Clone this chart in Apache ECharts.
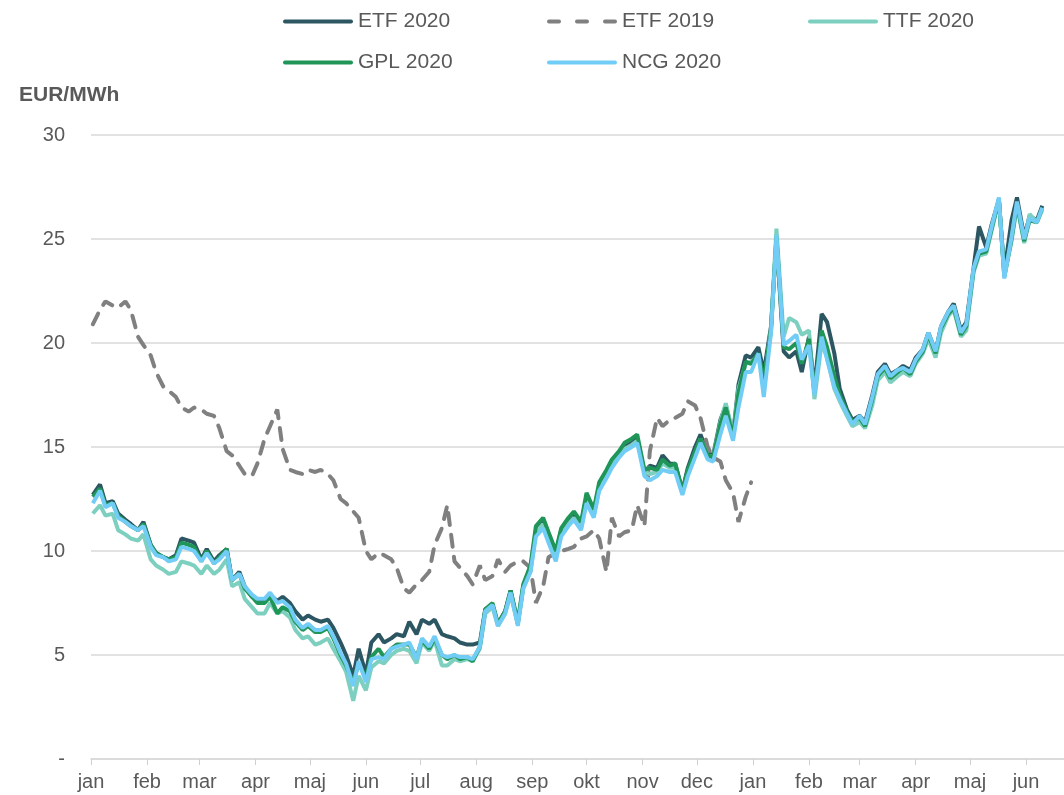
<!DOCTYPE html>
<html>
<head>
<meta charset="utf-8">
<script src="https://cdn.jsdelivr.net/npm/echarts@6/dist/echarts.min.js"></script>
<style>
  html, body { margin: 0; padding: 0; background: #fff; }
  #chart { width: 1064px; height: 795px; }
</style>
</head>
<body>
<div id="chart"></div>
<script>
// måneder på x-aksen
var months = ['jan', 'feb', 'mar', 'apr', 'maj', 'jun', 'jul', 'aug', 'sep', 'okt', 'nov', 'dec'];

// noteringsdatoer (man/tor), jan 2020 - jun 2021
var dates = [
  '2020-01-02','2020-01-06','2020-01-09','2020-01-13','2020-01-16','2020-01-20','2020-01-23','2020-01-27','2020-01-30',
  '2020-02-03','2020-02-06','2020-02-10','2020-02-13','2020-02-17','2020-02-20','2020-02-24','2020-02-27',
  '2020-03-02','2020-03-05','2020-03-09','2020-03-12','2020-03-16','2020-03-19','2020-03-23','2020-03-26','2020-03-30',
  '2020-04-02','2020-04-06','2020-04-09','2020-04-13','2020-04-16','2020-04-20','2020-04-23','2020-04-27','2020-04-30',
  '2020-05-04','2020-05-07','2020-05-11','2020-05-14','2020-05-18','2020-05-21','2020-05-25','2020-05-28',
  '2020-06-01','2020-06-04','2020-06-08','2020-06-11','2020-06-15','2020-06-18','2020-06-22','2020-06-25','2020-06-29',
  '2020-07-02','2020-07-06','2020-07-09','2020-07-13','2020-07-16','2020-07-20','2020-07-23','2020-07-27','2020-07-30',
  '2020-08-03','2020-08-06','2020-08-10','2020-08-13','2020-08-17','2020-08-20','2020-08-24','2020-08-27','2020-08-31',
  '2020-09-03','2020-09-07','2020-09-10','2020-09-14','2020-09-17','2020-09-21','2020-09-24','2020-09-28',
  '2020-10-01','2020-10-05','2020-10-08','2020-10-12','2020-10-15','2020-10-19','2020-10-22','2020-10-26','2020-10-29',
  '2020-11-02','2020-11-05','2020-11-09','2020-11-12','2020-11-16','2020-11-19','2020-11-23','2020-11-26','2020-11-30',
  '2020-12-03','2020-12-07','2020-12-10','2020-12-14','2020-12-17','2020-12-21','2020-12-24','2020-12-28','2020-12-31',
  '2021-01-04','2021-01-07','2021-01-11','2021-01-14','2021-01-18','2021-01-21','2021-01-25','2021-01-28',
  '2021-02-01','2021-02-04','2021-02-08','2021-02-11','2021-02-15','2021-02-18','2021-02-22','2021-02-25',
  '2021-03-01','2021-03-04','2021-03-08','2021-03-11','2021-03-15','2021-03-18','2021-03-22','2021-03-25','2021-03-29',
  '2021-04-01','2021-04-05','2021-04-08','2021-04-12','2021-04-15','2021-04-19','2021-04-22','2021-04-26','2021-04-29',
  '2021-05-03','2021-05-06','2021-05-10','2021-05-13','2021-05-17','2021-05-20','2021-05-24','2021-05-27','2021-05-31',
  '2021-06-03','2021-06-07','2021-06-10'
];

var etf2020 = [
  12.7, 13.2, 12.3, 12.4, 11.8, 11.5, 11.3, 11.0, 11.4,
  10.3, 9.9, 9.7, 9.6, 9.8, 10.6, 10.5, 10.4,
  9.6, 10.1, 9.5, 9.8, 10.1, 8.6, 9.0, 8.3, 7.8,
  7.6, 7.6, 7.9, 7.6, 7.8, 7.5, 7.1, 6.7, 6.9,
  6.7, 6.6, 6.7, 6.3, 5.6, 5.0, 4.0, 5.3,
  4.1, 5.6, 6.0, 5.6, 5.8, 6.0, 5.9, 6.6, 6.0,
  6.7, 6.5, 6.7, 6.0, 5.9, 5.8, 5.6, 5.5, 5.5,
  5.6, 7.2, 7.4, 6.5, 7.1, 8.1, 6.5, 8.3, 9.1,
  11.0, 11.4, 10.8, 9.9, 11.0, 11.5, 11.8, 11.3,
  12.6, 11.9, 13.1, 13.7, 14.3, 14.6, 15.0, 15.2, 15.4,
  13.8, 14.1, 14.0, 14.6, 14.2, 14.2, 12.9, 14.0, 15.0,
  15.6, 14.7, 14.6, 16.3, 17.0, 15.6, 18.0, 19.4, 19.3,
  19.8, 18.6, 20.8, 25.0, 19.6, 19.3, 19.6, 18.6,
  20.3, 17.8, 21.4, 21.0, 19.5, 17.8, 16.8, 16.3,
  16.5, 16.2, 17.5, 18.6, 19.0, 18.5, 18.7, 18.9, 18.7,
  19.3, 19.7, 20.5, 19.6, 20.8, 21.5, 21.9, 20.6, 21.0,
  23.6, 25.6, 24.6, 25.7, 26.9, 23.4, 25.9, 27.0, 25.1,
  26.1, 25.9, 26.6
];

// ETF 2019 vist på samme kalenderdage (jan-dec)
var etf2019 = [
  20.9, 21.6, 22.0, 21.8, 21.7, 22.0, 21.6, 20.3, 19.9,
  19.4, 18.6, 17.9, 17.7, 17.4, 16.9, 16.7, 16.9,
  16.8, 16.6, 16.5, 15.9, 14.8, 14.6, 14.1, 13.7, 13.6,
  14.2, 15.4, 16.0, 16.8, 14.9, 13.9, 13.8, 13.7, 13.9,
  13.8, 13.9, 13.7, 13.4, 12.5, 12.3, 11.9, 11.6,
  10.0, 9.6, 9.9, 9.8, 9.6, 9.2, 8.2, 8.0, 8.4,
  8.6, 9.0, 10.3, 11.1, 12.2, 9.5, 9.2, 8.8, 8.4,
  9.3, 8.6, 8.8, 9.6, 9.0, 9.3, 9.5, 9.5, 9.2,
  7.5, 8.3, 9.7, 9.9, 10.0, 10.1, 10.2, 10.6,
  10.7, 11.0, 10.6, 9.0, 11.6, 10.7, 10.9, 11.0, 12.2,
  11.2, 14.8, 16.4, 16.0, 16.3, 16.4, 16.6, 17.2, 17.0,
  16.4, 15.0, 14.5, 14.3, 13.4, 12.8, 11.4, 12.6, 13.3
];

var ttf2020 = [
  11.8, 12.2, 11.7, 11.8, 11.0, 10.8, 10.6, 10.5, 10.8,
  9.6, 9.3, 9.1, 8.9, 9.0, 9.5, 9.4, 9.3,
  8.9, 9.3, 8.9, 9.1, 9.6, 8.3, 8.5, 7.7, 7.3,
  7.0, 7.0, 7.5, 7.0, 7.1, 6.8, 6.2, 5.8, 5.9,
  5.5, 5.6, 5.8, 5.3, 4.7, 4.2, 2.8, 4.0,
  3.3, 4.4, 4.7, 4.6, 5.0, 5.2, 5.3, 5.2, 4.6,
  5.6, 5.2, 5.7, 4.5, 4.5, 4.8, 4.7, 4.8, 4.7,
  5.3, 7.0, 7.3, 6.4, 7.0, 7.9, 6.5, 8.2, 9.0,
  10.9, 11.3, 10.6, 9.7, 10.8, 11.3, 11.6, 11.1,
  12.4, 11.7, 13.0, 13.6, 14.2, 14.6, 14.9, 15.1, 15.3,
  13.8, 13.7, 13.8, 14.2, 14.0, 14.0, 12.8, 13.8, 14.7,
  15.4, 14.6, 14.5, 16.2, 17.1, 15.6, 17.8, 19.0, 19.1,
  19.4, 18.0, 20.7, 25.5, 20.3, 21.2, 21.0, 20.4,
  20.6, 17.3, 20.0, 19.3, 17.8, 17.2, 16.5, 16.0,
  16.2, 15.9, 17.0, 18.2, 18.6, 18.1, 18.4, 18.6, 18.4,
  19.0, 19.5, 20.2, 19.3, 20.5, 21.3, 21.6, 20.3, 20.6,
  23.4, 24.2, 24.3, 25.4, 26.9, 23.2, 24.9, 26.6, 24.8,
  26.2, 25.8, 26.4
];

var gpl2020 = [
  12.6, 13.0, 12.2, 12.3, 11.7, 11.4, 11.2, 11.0, 11.3,
  10.3, 9.9, 9.7, 9.6, 9.7, 10.4, 10.3, 10.2,
  9.5, 10.0, 9.4, 9.7, 10.1, 8.6, 8.9, 8.2, 7.8,
  7.5, 7.5, 7.8, 7.0, 7.3, 7.1, 6.6, 6.2, 6.4,
  6.1, 6.1, 6.3, 5.8, 5.0, 4.5, 3.7, 4.6,
  3.9, 4.9, 5.3, 4.9, 5.3, 5.5, 5.5, 5.5, 4.9,
  5.7, 5.3, 5.8, 5.0, 4.8, 5.0, 4.8, 4.9, 4.7,
  5.4, 7.2, 7.5, 6.5, 7.1, 8.1, 6.6, 8.4, 9.3,
  11.2, 11.6, 10.9, 10.0, 11.1, 11.6, 11.9, 11.4,
  12.8, 12.0, 13.3, 13.9, 14.4, 14.8, 15.2, 15.4, 15.6,
  13.9, 14.0, 13.9, 14.4, 14.1, 14.2, 12.9, 13.9, 14.8,
  15.4, 14.6, 14.5, 16.1, 16.9, 15.5, 17.6, 19.1, 19.0,
  19.5, 18.2, 20.6, 25.1, 19.8, 19.7, 20.0, 19.0,
  20.2, 17.6, 20.6, 19.8, 18.4, 17.5, 16.7, 16.2,
  16.4, 16.0, 17.3, 18.4, 18.8, 18.3, 18.6, 18.8, 18.5,
  19.1, 19.6, 20.4, 19.5, 20.7, 21.4, 21.7, 20.4, 20.8,
  23.5, 24.3, 24.4, 25.5, 26.9, 23.2, 25.0, 26.7, 24.9,
  25.9, 25.8, 26.5
];

var ncg2020 = [
  12.3, 12.9, 12.1, 12.3, 11.6, 11.4, 11.2, 11.0, 11.2,
  10.2, 9.8, 9.7, 9.5, 9.6, 10.2, 10.1, 10.0,
  9.5, 9.9, 9.4, 9.6, 10.0, 8.6, 8.9, 8.3, 7.9,
  7.7, 7.7, 8.0, 7.5, 7.6, 7.3, 6.7, 6.3, 6.5,
  6.2, 6.2, 6.4, 5.9, 5.1, 4.6, 3.5, 4.7,
  3.7, 4.8, 4.9, 4.8, 5.3, 5.4, 5.5, 5.6, 4.8,
  5.8, 5.4, 5.9, 5.0, 4.9, 5.0, 4.9, 4.9, 4.8,
  5.4, 7.1, 7.4, 6.4, 7.0, 8.0, 6.4, 8.2, 9.0,
  10.7, 11.1, 10.4, 9.5, 10.7, 11.2, 11.5, 11.0,
  12.3, 11.6, 12.9, 13.5, 14.0, 14.5, 14.8, 15.0, 15.2,
  13.6, 13.4, 13.6, 13.9, 13.8, 13.8, 12.7, 13.6, 14.5,
  15.2, 14.4, 14.3, 15.6, 16.5, 15.3, 16.9, 18.6, 18.6,
  19.5, 17.4, 20.5, 25.2, 19.9, 20.1, 20.4, 19.2,
  19.9, 17.5, 20.3, 19.2, 17.9, 17.3, 16.6, 16.1,
  16.5, 16.1, 17.4, 18.5, 18.9, 18.4, 18.7, 18.8, 18.6,
  19.2, 19.7, 20.5, 19.6, 20.8, 21.5, 21.8, 20.5, 20.9,
  23.6, 24.4, 24.5, 25.6, 27.0, 23.1, 25.1, 26.8, 25.0,
  26.0, 25.8, 26.5
];

function pairs(vals) {
  return vals.map(function (v, i) { return [dates[i], v]; });
}

var textColor = '#595959';
var font = '"Liberation Sans", Arial, sans-serif';
var DAY = 24 * 3600 * 1000;

// legend-ikoner: hel streg og stiplet streg
var solidIcon = 'path://M2,0H68A2,2,0,0,1,68,4H2A2,2,0,0,1,2,0Z';
var dashIcon = 'path://M2,0H12A2,2,0,0,1,12,4H2A2,2,0,0,1,2,0Z M30,0H40A2,2,0,0,1,40,4H30A2,2,0,0,1,30,0Z M58,0H68A2,2,0,0,1,68,4H58A2,2,0,0,1,58,0Z';

function legendCol(left, names) {
  return {
    orient: 'vertical',
    left: left,
    top: 11,
    padding: 0,
    itemWidth: 70,
    itemHeight: 4,
    itemGap: 20,
    selectedMode: false,
    textStyle: { color: textColor, fontSize: 21, fontFamily: font, lineHeight: 21 },
    data: names.map(function (n) {
      return { name: n, icon: n === 'ETF 2019' ? dashIcon : solidIcon };
    })
  };
}

var chart = echarts.init(document.getElementById('chart'));
var option = {
  animation: false,
  backgroundColor: '#fff',
  title: {
    text: 'EUR/MWh',
    left: 19,
    top: 85,
    padding: 0,
    textStyle: { color: textColor, fontSize: 21, fontWeight: 'bold', fontFamily: font }
  },
  legend: [
    legendCol(283, ['ETF 2020', 'GPL 2020']),
    legendCol(547, ['ETF 2019', 'NCG 2020']),
    legendCol(808, ['TTF 2020'])
  ],
  grid: { left: 91, right: 0, top: 135, bottom: 36 },
  xAxis: {
    type: 'time',
    min: new Date(2020, 0, 1).getTime(),
    max: new Date(2021, 5, 22).getTime(),
    minInterval: 28 * DAY,
    maxInterval: 31 * DAY,
    axisLine: { lineStyle: { color: '#d9d9d9', width: 1.5 } },
    axisTick: { show: true, length: 6, lineStyle: { color: '#d0d0d0' } },
    splitLine: { show: false },
    axisLabel: {
      color: textColor,
      fontSize: 20,
      fontFamily: font,
      margin: 13,
      formatter: function (v) { return months[new Date(v).getMonth()]; }
    }
  },
  yAxis: {
    type: 'value',
    min: 0,
    max: 30,
    interval: 5,
    axisLine: { show: false },
    axisTick: { show: false },
    splitLine: { lineStyle: { color: '#d9d9d9', width: 1.5 } },
    axisLabel: {
      color: textColor,
      fontSize: 20,
      fontFamily: font,
      margin: 26,
      formatter: function (v) { return v === 0 ? '-' : v; }
    }
  },
  series: [
    {
      name: 'ETF 2020', type: 'line', symbol: 'none', data: pairs(etf2020),
      lineStyle: { color: '#2c5662', width: 4 }, itemStyle: { color: '#2c5662' }
    },
    {
      name: 'ETF 2019', type: 'line', symbol: 'none', data: pairs(etf2019),
      lineStyle: { color: '#808080', width: 4, type: [12, 10], cap: 'round' }, itemStyle: { color: '#808080' }
    },
    {
      name: 'TTF 2020', type: 'line', symbol: 'none', data: pairs(ttf2020),
      lineStyle: { color: '#7dcfbf', width: 4 }, itemStyle: { color: '#7dcfbf' }
    },
    {
      name: 'GPL 2020', type: 'line', symbol: 'none', data: pairs(gpl2020),
      lineStyle: { color: '#1f9658', width: 4 }, itemStyle: { color: '#1f9658' }
    },
    {
      name: 'NCG 2020', type: 'line', symbol: 'none', data: pairs(ncg2020),
      lineStyle: { color: '#72cdf6', width: 4 }, itemStyle: { color: '#72cdf6' }
    }
  ]
};
chart.setOption(option);
</script>
</body>
</html>
